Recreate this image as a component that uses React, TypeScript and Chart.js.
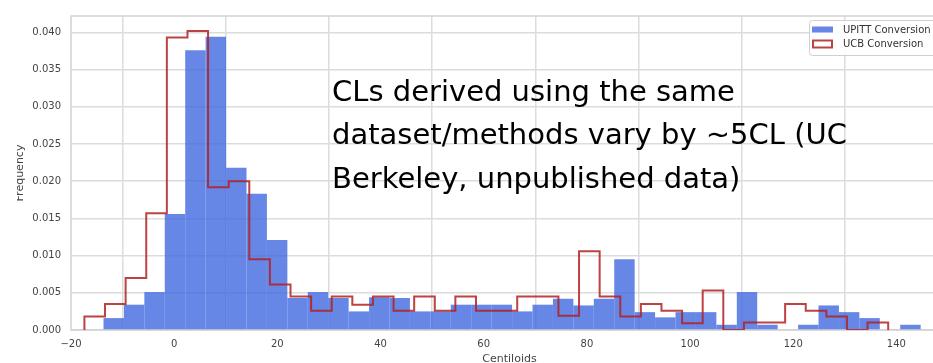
import React, { useEffect, useRef } from "react";
import { Chart, registerables } from "chart.js";

Chart.register(...registerables);

// UPITT Conversion histogram (filled bars)
const upittStart = -13.7;
const upittBinWidth = 3.96;
const upittValues = [
  0.0016, 0.0034, 0.0051, 0.0156, 0.0376, 0.0394, 0.0218, 0.0183, 0.0121, 0.0043,
  0.0051, 0.0043, 0.0025, 0.0044, 0.0043, 0.0025, 0.0025, 0.0034, 0.0034, 0.0034,
  0.0025, 0.0034, 0.0042, 0.0033, 0.0042, 0.0095, 0.0024, 0.0017, 0.0024, 0.0024,
  0.0007, 0.0051, 0.0007, 0.0, 0.0007, 0.0033, 0.0024, 0.0016, 0.0, 0.0007,
];

// UCB Conversion histogram (step outline)
const ucbStart = -17.4;
const ucbBinWidth = 3.995;
const ucbValues = [
  0.0018, 0.0035, 0.007, 0.0157, 0.0393, 0.0402, 0.0192, 0.02, 0.0095, 0.0061,
  0.0045, 0.0026, 0.0045, 0.0034, 0.0045, 0.0026, 0.0045, 0.0026, 0.0045, 0.0026,
  0.0026, 0.0045, 0.0045, 0.0019, 0.0106, 0.0045, 0.0018, 0.0035, 0.0026, 0.0009,
  0.0053, 0.0, 0.001, 0.001, 0.0035, 0.0026, 0.0018, 0.0, 0.001,
];

const xTicks = [-20, 0, 20, 40, 60, 80, 100, 120, 140];
const yTicks = [0, 0.005, 0.01, 0.015, 0.02, 0.025, 0.03, 0.035, 0.04];
const legendLabels = ["UPITT Conversion", "UCB Conversion"];
const xTitle = "Centiloids";
const yTitle = "Frequency";
const annotationLines = [
  "CLs derived using the same",
  "dataset/methods vary by ~5CL (UC",
  "Berkeley, unpublished data)",
];

const FONT = "'DejaVu Sans', sans-serif";

export default function App() {
  const ref = useRef<HTMLCanvasElement>(null);

  useEffect(() => {
    const canvas = ref.current;
    if (!canvas) return;

    const upittData = upittValues.map((v, i) => ({
      x: upittStart + (i + 0.5) * upittBinWidth,
      y: v,
    }));
    const ucbEnd = ucbStart + ucbValues.length * ucbBinWidth;
    const ucbData: { x: number; y: number }[] = [{ x: ucbStart, y: 0 }];
    ucbValues.forEach((v, i) => {
      const l = ucbStart + i * ucbBinWidth;
      ucbData.push({ x: l, y: v }, { x: l + ucbBinWidth, y: v });
    });
    ucbData.push({ x: ucbEnd, y: 0 });

    const blue = "rgba(65,105,225,0.8)";
    const red = "rgba(178,34,34,0.85)";

    const framePlugin = {
      id: "frame",
      beforeDatasetsDraw(chart: any) {
        const { ctx, chartArea: a } = chart;
        ctx.save();
        ctx.strokeStyle = "#d2d2d2";
        ctx.lineWidth = 1.5;
        ctx.strokeRect(a.left, a.top, a.right - a.left, a.bottom - a.top);
        ctx.restore();
      },
      afterDraw(chart: any) {
        const { ctx, chartArea: a } = chart;
        const ds = chart.data.datasets;
        const bx = a.right - 139;
        const by = a.top + 4;
        const bw = 134;
        const bh = 35;
        ctx.save();
        ctx.beginPath();
        if (ctx.roundRect) ctx.roundRect(bx + 0.5, by + 0.5, bw, bh, 3);
        else ctx.rect(bx + 0.5, by + 0.5, bw, bh);
        ctx.fillStyle = "rgba(255,255,255,0.85)";
        ctx.fill();
        ctx.strokeStyle = "#cfcfcf";
        ctx.lineWidth = 1;
        ctx.stroke();
        // blue patch
        ctx.fillStyle = ds[0].backgroundColor;
        ctx.fillRect(bx + 3, by + 6.5, 21, 6);
        // red outline patch
        ctx.fillStyle = "#ffffff";
        ctx.fillRect(bx + 4, by + 20.5, 19, 7);
        ctx.strokeStyle = ds[1].borderColor;
        ctx.lineWidth = 2;
        ctx.strokeRect(bx + 4, by + 20.5, 19, 7);
        // labels
        ctx.fillStyle = "#333333";
        ctx.font = `10px ${FONT}`;
        ctx.textBaseline = "middle";
        ctx.textAlign = "left";
        ctx.fillText(ds[0].label, bx + 34, by + 10);
        ctx.fillText(ds[1].label, bx + 34, by + 24);
        ctx.restore();
      },
    };

    const chart = new Chart(canvas, {
      type: "bar",
      data: {
        datasets: [
          {
            type: "bar",
            label: legendLabels[0],
            data: upittData,
            backgroundColor: blue,
            borderWidth: 0,
            inflateAmount: 0,
            barPercentage: 1,
            categoryPercentage: 1,
            order: 2,
          } as any,
          {
            type: "line",
            label: legendLabels[1],
            data: ucbData,
            borderColor: red,
            backgroundColor: red,
            borderWidth: 2,
            pointRadius: 0,
            tension: 0,
            fill: false,
            borderJoinStyle: "miter",
            order: 1,
          } as any,
        ],
      },
      options: {
        responsive: false,
        animation: false,
        devicePixelRatio: 1,
        layout: { padding: { top: 9, left: 0, right: 0, bottom: 0 } },
        plugins: {
          legend: { display: false },
          tooltip: { enabled: false },
        },
        scales: {
          x: {
            type: "linear",
            min: -20,
            max: 150,
            offset: false,
            afterFit: (s: any) => {
              s.height = 42;
            },
            afterBuildTicks: (s: any) => {
              s.ticks = xTicks.map((v) => ({ value: v }));
            },
            ticks: {
              padding: 8,
              color: "#444444",
              font: { family: FONT, size: 10 },
              callback: (v: any) => (v < 0 ? "\u2212" + Math.abs(v) : String(v)),
            },
            grid: { color: "#dcdcdc", lineWidth: 1.5, drawTicks: false },
            border: { display: false },
            title: {
              display: true,
              text: xTitle,
              color: "#444444",
              font: { family: FONT, size: 11 },
              padding: { top: 0, bottom: 6.5 },
            },
          },
          y: {
            type: "linear",
            min: 0,
            max: 0.0422,
            afterFit: (s: any) => {
              s.width = 54;
            },
            afterBuildTicks: (s: any) => {
              s.ticks = yTicks.map((v) => ({ value: v }));
            },
            ticks: {
              padding: 10,
              color: "#444444",
              font: { family: FONT, size: 10 },
              callback: (v: any) => Number(v).toFixed(3),
            },
            grid: { color: "#dcdcdc", lineWidth: 1.5, drawTicks: false },
            border: { display: false },
            title: {
              display: true,
              text: yTitle,
              color: "#444444",
              font: { family: FONT, size: 11 },
              padding: { top: -3.8, bottom: 0 },
            },
          },
        },
      } as any,
      plugins: [framePlugin],
    });

    return () => chart.destroy();
  }, []);

  return (
    <div
      style={{
        position: "fixed",
        left: 0,
        top: 0,
        width: 933,
        height: 363,
        overflow: "hidden",
        background: "#ffffff",
      }}
    >
      <canvas
        ref={ref}
        width={931}
        height={372}
        style={{ position: "absolute", left: 17, top: 0, width: 931, height: 372 }}
      />
      <div
        style={{
          position: "absolute",
          left: 332,
          top: 70,
          fontFamily: FONT,
          fontSize: 29,
          lineHeight: "43.3px",
          color: "#000000",
          whiteSpace: "pre",
          pointerEvents: "none",
        }}
      >
        {annotationLines.map((t, i) => (
          <div key={i}>{t}</div>
        ))}
      </div>
    </div>
  );
}
